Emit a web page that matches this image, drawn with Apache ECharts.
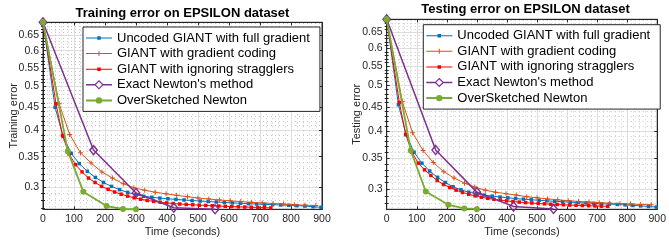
<!DOCTYPE html>
<html><head><meta charset="utf-8">
<script src="https://cdn.jsdelivr.net/npm/echarts@6/dist/echarts.min.js"></script>
<style>html,body{margin:0;padding:0;background:#fff}#c{width:669px;height:244px}</style>
</head><body><div id="c"></div>
<script>
// ---------- data ----------
const seriesNames = ['Uncoded GIANT with full gradient', 'GIANT with gradient coding', 'GIANT with ignoring stragglers', "Exact Newton's method", 'OverSketched Newton'];
const chartTitles = ['Training error on EPSILON dataset', 'Testing error on EPSILON dataset'];
const yNames = ['Training error', 'Testing error'];
const xName = 'Time (seconds)';
const yTickValues = [0.3, 0.35, 0.4, 0.45, 0.5, 0.55, 0.6, 0.65];

const timeUncoded = [0, 39, 65, 91, 117, 143, 169, 195, 221, 247, 273, 299, 325, 351, 377, 403, 429, 455, 481, 507, 533, 559, 585, 611, 637, 663, 689, 715, 741, 767, 793, 819, 845, 871, 897];
const timeCoded = [0, 52, 86, 121, 155, 190, 224, 259, 293, 328, 362, 397, 431, 466, 500, 535, 569, 604, 638, 673, 707, 742, 776, 811, 845, 880];
const timeIgnore = [0, 42, 63, 84, 105, 126, 147, 168, 189, 210, 231, 252, 273, 294, 315, 336, 357, 378, 399, 420, 441, 462, 483, 504, 525, 546, 567, 588, 609, 630, 651, 672, 693, 714, 735];
const timeExact = [0, 163, 300, 422, 555];
const timeOver = [0, 80, 130, 205, 258, 300];

const trainUncoded = [0.6931, 0.450, 0.388, 0.356, 0.338, 0.325, 0.315, 0.307, 0.301, 0.296, 0.292, 0.2885, 0.2862, 0.2848, 0.2836, 0.2826, 0.2817, 0.2809, 0.2801, 0.2794, 0.2787, 0.2780, 0.2774, 0.2768, 0.2762, 0.2757, 0.2752, 0.2747, 0.2743, 0.2739, 0.2734, 0.2729, 0.2723, 0.2715, 0.2706];
const trainCoded = [0.6931, 0.458, 0.392, 0.357, 0.339, 0.324, 0.314, 0.305, 0.299, 0.2952, 0.2922, 0.2898, 0.2876, 0.2856, 0.2838, 0.2823, 0.2809, 0.2797, 0.2786, 0.2776, 0.2767, 0.2759, 0.2751, 0.2743, 0.2736, 0.2730];
const trainIgnore = [0.6931, 0.458, 0.390, 0.355, 0.336, 0.324, 0.314, 0.307, 0.301, 0.2965, 0.2925, 0.2893, 0.2865, 0.2840, 0.2820, 0.2803, 0.2789, 0.2777, 0.2767, 0.2759, 0.2752, 0.2746, 0.2741, 0.2736, 0.2732, 0.2728, 0.2724, 0.2720, 0.2716, 0.2713, 0.2710, 0.2707, 0.2704, 0.2701, 0.2698];
const trainExact = [0.6931, 0.362, 0.291, 0.270, 0.268];
const trainOver = [0.6931, 0.360, 0.293, 0.2724, 0.2683, 0.2680];

const testUncoded = [0.6931, 0.455, 0.392, 0.360, 0.341, 0.328, 0.318, 0.310, 0.3035, 0.299, 0.2955, 0.2932, 0.2913, 0.2898, 0.2885, 0.2874, 0.2864, 0.2855, 0.2847, 0.2839, 0.2832, 0.2825, 0.2819, 0.2813, 0.2807, 0.2802, 0.2797, 0.2792, 0.2787, 0.2782, 0.2776, 0.2769, 0.2762, 0.2754, 0.2746];
const testCoded = [0.6931, 0.462, 0.396, 0.363, 0.342, 0.327, 0.317, 0.309, 0.303, 0.2985, 0.2955, 0.2933, 0.2913, 0.2890, 0.2874, 0.2859, 0.2846, 0.2834, 0.2823, 0.2814, 0.2806, 0.2799, 0.2793, 0.2787, 0.2782, 0.2777];
const testIgnore = [0.6931, 0.460, 0.393, 0.360, 0.341, 0.330, 0.321, 0.313, 0.307, 0.3025, 0.2985, 0.2952, 0.2925, 0.2902, 0.2883, 0.2867, 0.2853, 0.2841, 0.2831, 0.2822, 0.2814, 0.2807, 0.2801, 0.2795, 0.2790, 0.2785, 0.2781, 0.2777, 0.2773, 0.2770, 0.2767, 0.2764, 0.2761, 0.2758, 0.2756];
const testExact = [0.6931, 0.364, 0.2956, 0.2753, 0.2720];
const testOver = [0.6931, 0.363, 0.2965, 0.2777, 0.2728, 0.2718];

const yRange = [[0.2679, 0.6932], [0.2716, 0.6932]];

// ---------- styling ----------
const FONT = 'Liberation Sans, Arial, Helvetica, sans-serif';
const AX = '#262626';
const colors = ['#0072BD', '#D95319', '#FF0000', '#7E2F8E', '#77AC30'];
const plusPath = 'path://M4,0H6V4H10V6H6V10H4V6H0V4H4Z';
const corners = 'M0,0h0.01v0.01h-0.01z M25.99,11.99h0.01v0.01h-0.01z ';
const legendIcons = [
  'path://' + corners + 'M0,5.5H26V6.5H0z M11.25,4.25H14.75V7.75H11.25z',
  'path://' + corners + 'M0,5.5H26V6.5H0z M12.5,3.5H13.5V8.5H12.5z',
  'path://' + corners + 'M0,5.5H26V6.5H0z M11.25,4.25H14.75V7.75H11.25z',
  'path://' + corners + 'M0,5.25H8.8V6.75H0z M17.2,5.25H26V6.75H17.2z M13,1.2L17.8,6L13,10.8L8.2,6z M13,2.9L9.9,6L13,9.1L16.1,6z',
  'path://' + corners + 'M0,5H26V7H0z M9.8,6A3.2,3.2 0 1,1 16.2,6A3.2,3.2 0 1,1 9.8,6z'
];

const minorTicks = [];
for (let k = 27; k <= 69; k++) { if (k % 5 !== 0) minorTicks.push(k / 100); }

const grids = [
  { left: 43, top: 22.3, width: 279, height: 187 },
  { left: 386.7, top: 19.3, width: 277.6, height: 190 }
];

function pairs(t, v) { return t.map((x, i) => [x, v[i]]); }
const dataSets = [
  [pairs(timeUncoded, trainUncoded), pairs(timeCoded, trainCoded), pairs(timeIgnore, trainIgnore), pairs(timeExact, trainExact), pairs(timeOver, trainOver)],
  [pairs(timeUncoded, testUncoded), pairs(timeCoded, testCoded), pairs(timeIgnore, testIgnore), pairs(timeExact, testExact), pairs(timeOver, testOver)]
];

const xAxes = [], yAxes = [], series = [], titles = [], legends = [];
const titleCenters = [[182.5, 6.5], [525.5, 2.5]];
const legendPos = [[83, 27], [423.3, 24.7]];

for (let g = 0; g < 2; g++) {
  titles.push({ text: chartTitles[g], left: titleCenters[g][0], top: titleCenters[g][1], textAlign: 'center', padding: 0,
    textStyle: { fontFamily: FONT, fontSize: 13, fontWeight: 'bold', color: '#000' } });
  xAxes.push({
    gridIndex: g, type: 'value', min: 0, max: 900, interval: 100, position: 'bottom',
    name: xName, nameLocation: 'middle', nameGap: 17, nameMoveOverlap: false,
    nameTextStyle: { fontFamily: FONT, fontSize: 11, color: AX },
    axisLine: { show: true, onZero: false, lineStyle: { color: AX, width: 1 } },
    axisTick: { show: true, inside: true, length: 3, lineStyle: { color: AX } },
    axisLabel: { fontFamily: FONT, fontSize: 10.5, color: AX, margin: 4 },
    minorTick: { show: false, splitNumber: 5 },
    splitLine: { show: true, lineStyle: { color: '#dedede', width: 1 } },
    minorSplitLine: { show: true, lineStyle: { color: '#c6c6c6', width: 1, type: [1, 3] } }
  });
  xAxes.push({
    gridIndex: g, type: 'value', min: 0, max: 900, interval: 100, position: 'top',
    axisLine: { show: true, onZero: false, lineStyle: { color: AX, width: 1 } },
    axisTick: { show: true, inside: true, length: 3, lineStyle: { color: AX } },
    axisLabel: { show: false }, splitLine: { show: false }
  });
  const yBase = { gridIndex: g, type: 'log', logBase: 10, min: yRange[g][0], max: yRange[g][1] };
  yAxes.push(Object.assign({}, yBase, {
    position: 'left',
    name: yNames[g], nameLocation: 'middle', nameGap: 24, nameMoveOverlap: false,
    nameTextStyle: { fontFamily: FONT, fontSize: 11, color: AX },
    axisLine: { show: true, onZero: false, lineStyle: { color: AX, width: 1 } },
    axisTick: { show: true, inside: true, length: 3, lineStyle: { color: AX }, customValues: yTickValues },
    axisLabel: { fontFamily: FONT, fontSize: 10.5, color: AX, margin: 4, customValues: yTickValues,
      formatter: v => String(parseFloat(Number(v).toFixed(2))) },
    splitLine: { show: true, lineStyle: { color: '#dedede', width: 1 } }
  }));
  yAxes.push(Object.assign({}, yBase, {
    position: 'left', axisLine: { show: false },
    axisTick: { show: true, inside: true, length: 2, lineStyle: { color: AX }, customValues: minorTicks },
    axisLabel: { show: false },
    splitLine: { show: true, lineStyle: { color: '#c6c6c6', width: 1, type: [1, 3] } }
  }));
  yAxes.push(Object.assign({}, yBase, {
    position: 'right', axisLine: { show: true, onZero: false, lineStyle: { color: AX, width: 1 } },
    axisTick: { show: true, inside: true, length: 3, lineStyle: { color: AX }, customValues: yTickValues },
    axisLabel: { show: false }, splitLine: { show: false }
  }));
  yAxes.push(Object.assign({}, yBase, {
    position: 'right', axisLine: { show: false },
    axisTick: { show: true, inside: true, length: 2, lineStyle: { color: AX }, customValues: minorTicks },
    axisLabel: { show: false }, splitLine: { show: false }
  }));
  legends.push({
    orient: 'vertical', left: legendPos[g][0], top: legendPos[g][1],
    padding: [4, 10, 4, 3], itemWidth: 26, itemHeight: 12, itemGap: 1.6,
    backgroundColor: '#fff', borderColor: AX, borderWidth: 1,
    selectedMode: false,
    textStyle: { fontFamily: FONT, fontSize: 13, color: '#000', lineHeight: 14 },
    itemStyle: { borderWidth: 0 },
    data: seriesNames.map((n, i) => ({ name: n, icon: legendIcons[i], itemStyle: { color: colors[i], borderWidth: 0 } }))
  });
  const defs = [
    { symbol: 'rect', size: 3.5, lw: 1 },
    { symbol: plusPath, size: 5, lw: 1 },
    { symbol: 'rect', size: 3.5, lw: 1 },
    { symbol: 'diamond', size: [7.5, 9], lw: 1.5, open: true },
    { symbol: 'circle', size: 6, lw: 1.8 }
  ];
  defs.forEach((d, i) => {
    series.push({
      type: 'line', name: seriesNames[i], xAxisIndex: g * 2, yAxisIndex: g * 4,
      data: dataSets[g][i], symbol: d.symbol, symbolSize: d.size, showSymbol: true,
      clip: false, animation: false, silent: true, z: 2 + i,
      lineStyle: { color: colors[i], width: d.lw },
      itemStyle: d.open ? { color: 'rgba(255,255,255,0)', borderColor: colors[i], borderWidth: 1.4 } : { color: colors[i] },
      emphasis: { disabled: true }
    });
  });
}

const chart = echarts.init(document.getElementById('c'));
chart.setOption({
  animation: false,
  title: titles,
  legend: legends,
  grid: grids.map(gr => Object.assign({ show: true, borderColor: AX, borderWidth: 1, backgroundColor: 'transparent' }, gr)),
  xAxis: xAxes,
  yAxis: yAxes,
  series: series
});
</script></body></html>
